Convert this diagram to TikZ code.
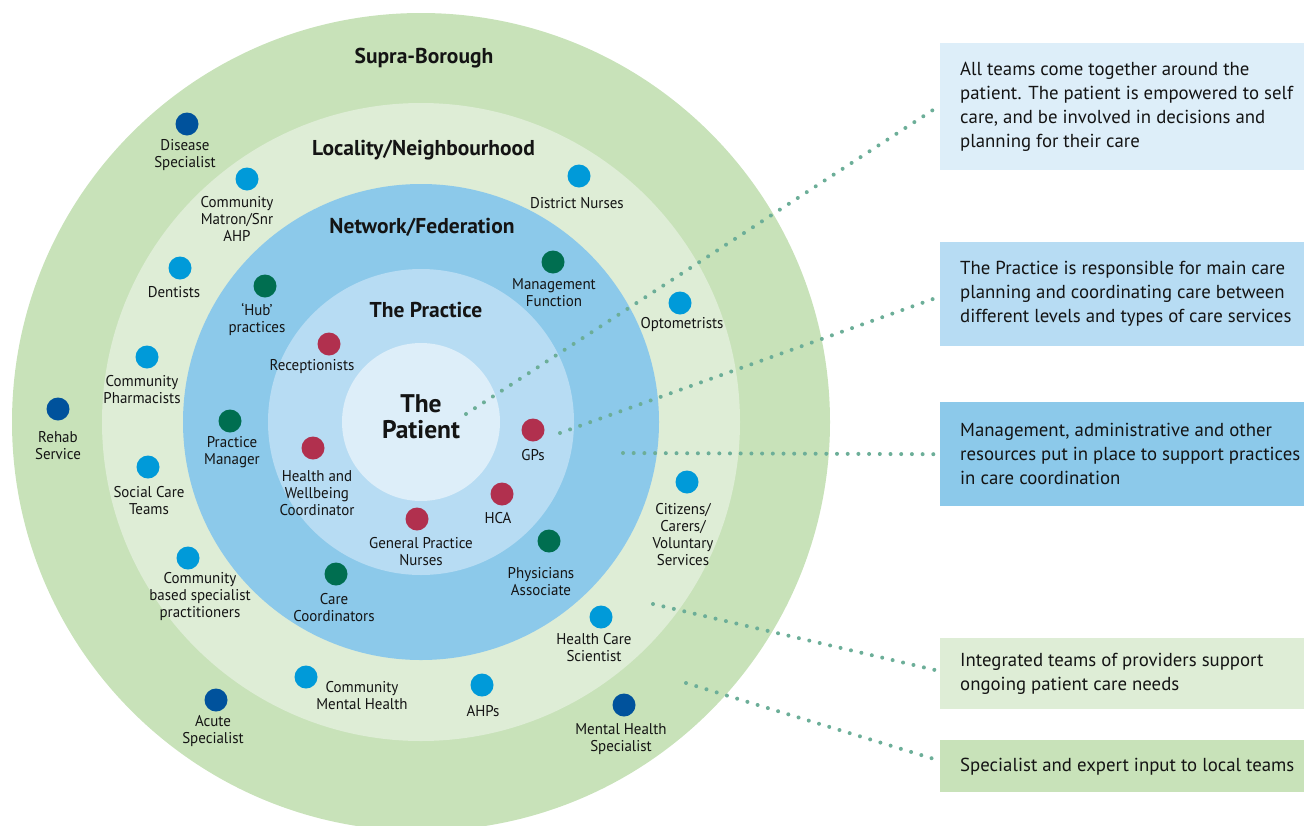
\documentclass[tikz,border=0pt]{standalone}
\usepackage{fontspec}
\setmainfont{PT Sans}
\newfontfamily\labelfont[FakeStretch=0.96]{PT Sans}
\definecolor{supra}{HTML}{C8E2B9}
\definecolor{locality}{HTML}{DEEDD6}
\definecolor{network}{HTML}{8CC9EA}
\definecolor{practice}{HTML}{B7DCF3}
\definecolor{patient}{HTML}{DDEEF9}
\definecolor{dotdarkblue}{HTML}{00529C}
\definecolor{dotlightblue}{HTML}{009AD9}
\definecolor{dotgreen}{HTML}{006E50}
\definecolor{dotred}{HTML}{B1304E}
\definecolor{leader}{HTML}{6CAE98}
\definecolor{ink}{HTML}{141414}
\begin{document}
\begin{tikzpicture}[x=1pt,y=-1pt,
  ring/.style={circle, inner sep=0pt, minimum size=#1},
  member/.style={circle, inner sep=0pt, minimum size=23pt, fill=#1},
  lbl/.style={font=\labelfont\fontsize{15.6}{17}\selectfont, align=center, inner sep=0pt, text=ink},
  title/.style={font=\bfseries\fontsize{21.5}{24}\selectfont, inner sep=0pt, text=ink},
  infobox/.style={rectangle, inner sep=0pt, minimum width=364pt, anchor=north west},
  infotext/.style={font=\fontsize{18.8}{24}\selectfont, align=left, inner sep=0pt, text=ink, anchor=west},
  leaderline/.style={draw=leader, line width=4pt, line cap=round, dash pattern=on 0pt off 10.7pt}
]
\useasboundingbox (0,0) rectangle (1304,825);
\clip (0,0) rectangle (1304,825);

% concentric levels of care
\node[ring=818pt, fill=supra] (supraring) at (421,422) {};
\node[ring=638pt, fill=locality] (localring) at (421,422) {};
\node[ring=476pt, fill=network] (netring) at (421,422) {};
\node[ring=306pt, fill=practice] (pracring) at (421,422) {};
\node[ring=158pt, fill=patient] (patring) at (421,422) {};

% level titles
\node[title] (tsupra) at (424,58) {Supra-Borough};
\node[title] (tlocal) at (423.5,150) {Locality/Neighbourhood};
\node[title] (tnet) at (422,227) {Network/Federation};
\node[title] (tprac) at (426,310) {The Practice};
\node[font=\bfseries\fontsize{25.5}{26}\selectfont, align=center, inner sep=0pt, text=ink] (tpat) at (421,417) {The\\Patient};

% specialist services (supra-borough)
\node[member=dotdarkblue] (disease) at (187,124) {};
\node[lbl] (diseaseL) at (185,155.5) {Disease\\Specialist};
\node[member=dotdarkblue] (rehab) at (58,409) {};
\node[lbl] (rehabL) at (58,445.5) {Rehab\\Service};
\node[member=dotdarkblue] (acute) at (216,700) {};
\node[lbl] (acuteL) at (213,731.5) {Acute\\Specialist};
\node[member=dotdarkblue] (mhspec) at (624,705) {};
\node[lbl] (mhspecL) at (621,739.5) {Mental Health\\Specialist};

% locality teams
\node[member=dotlightblue] (matron) at (247,179) {};
\node[lbl] (matronL) at (237,219) {Community\\Matron/Snr\\AHP};
\node[member=dotlightblue] (dentists) at (180,268) {};
\node[lbl] (dentistsL) at (174,292) {Dentists};
\node[member=dotlightblue] (pharm) at (147,357) {};
\node[lbl] (pharmL) at (142,389.5) {Community\\Pharmacists};
\node[member=dotlightblue] (social) at (148,467) {};
\node[lbl] (socialL) at (149,500.5) {Social Care\\Teams};
\node[member=dotlightblue] (cbsp) at (188,558) {};
\node[lbl] (cbspL) at (200,596) {Community\\based specialist\\practitioners};
\node[member=dotlightblue] (cmh) at (306,677) {};
\node[lbl] (cmhL) at (362,695.5) {Community\\Mental Health};
\node[member=dotlightblue] (ahps) at (482,685) {};
\node[lbl] (ahpsL) at (483,711) {AHPs};
\node[member=dotlightblue] (hcs) at (601,617) {};
\node[lbl] (hcsL) at (594,648) {Health Care\\Scientist};
\node[member=dotlightblue] (citizens) at (687,482) {};
\node[lbl] (citizensL) at (683,535) {Citizens/\\Carers/\\Voluntary\\Services};
\node[member=dotlightblue] (optom) at (680,303) {};
\node[lbl] (optomL) at (682,325) {Optometrists};
\node[member=dotlightblue] (district) at (579,176) {};
\node[lbl] (districtL) at (577,203) {District Nurses};

% network / federation roles
\node[member=dotgreen] (hub) at (265,286) {};
\node[lbl] (hubL) at (257,319.5) {‘Hub’\\practices};
\node[member=dotgreen] (pmanager) at (230,421) {};
\node[lbl] (pmanagerL) at (232,452.5) {Practice\\Manager};
\node[member=dotgreen] (carecoord) at (336,574) {};
\node[lbl] (carecoordL) at (334,607.5) {Care\\Coordinators};
\node[member=dotgreen] (physassoc) at (549,541) {};
\node[lbl] (physassocL) at (541,582) {Physicians\\Associate};
\node[member=dotgreen] (mgmt) at (553,262) {};
\node[lbl] (mgmtL) at (554,293) {Management\\Function};

% practice team
\node[member=dotred] (recep) at (329,344) {};
\node[lbl] (recepL) at (312,367) {Receptionists};
\node[member=dotred] (hwc) at (313,448) {};
\node[lbl] (hwcL) at (317,493) {Health and\\Wellbeing\\Coordinator};
\node[member=dotred] (gpn) at (417,519) {};
\node[lbl] (gpnL) at (421,551.5) {General Practice\\Nurses};
\node[member=dotred] (hca) at (502,494) {};
\node[lbl] (hcaL) at (498,518) {HCA};
\node[member=dotred] (gps) at (533,430) {};
\node[lbl] (gpsL) at (533,455) {GPs};

% explanatory panels
\node[infobox, fill=patient, minimum height=127pt] (box1) at (940,43) {};
\node[infobox, fill=practice, minimum height=104pt] (box2) at (940,242) {};
\node[infobox, fill=network, minimum height=104pt] (box3) at (940,402) {};
\node[infobox, fill=locality, minimum height=71pt] (box4) at (940,638) {};
\node[infobox, fill=supra, minimum height=52pt] (box5) at (940,740) {};

\node[infotext] (text1) at ([xshift=20pt]box1.west) {All teams come together around the\\patient. The patient is empowered to self\\care, and be involved in decisions and\\planning for their care};
\node[infotext] (text2) at ([xshift=20pt]box2.west) {The Practice is responsible for main care\\planning and coordinating care between\\different levels and types of care services};
\node[infotext] (text3) at ([xshift=20pt]box3.west) {Management, administrative and other\\resources put in place to support practices\\in care coordination};
\node[infotext] (text4) at ([xshift=20pt]box4.west) {Integrated teams of providers support\\ongoing patient care needs};
\node[infotext] (text5) at ([xshift=20pt]box5.west) {Specialist and expert input to local teams};

% dotted leaders from each level to its panel
\coordinate (from1) at (466,414);
\coordinate (from2) at (560,433);
\coordinate (from3) at (623,453);
\coordinate (from4) at (653,604);
\coordinate (from5) at (686,683);
\draw[leaderline] (from1) -- ([xshift=-2pt]box1.west);
\draw[leaderline] (from2) -- ([xshift=-2pt,yshift=-3pt]box2.west);
\draw[leaderline] (from3) -- ([xshift=-2pt]box3.west);
\draw[leaderline] (from4) -- ([xshift=-2pt,yshift=3pt]box4.west);
\draw[leaderline] (from5) -- ([xshift=-2pt,yshift=6pt]box5.west);
\end{tikzpicture}
\end{document}
